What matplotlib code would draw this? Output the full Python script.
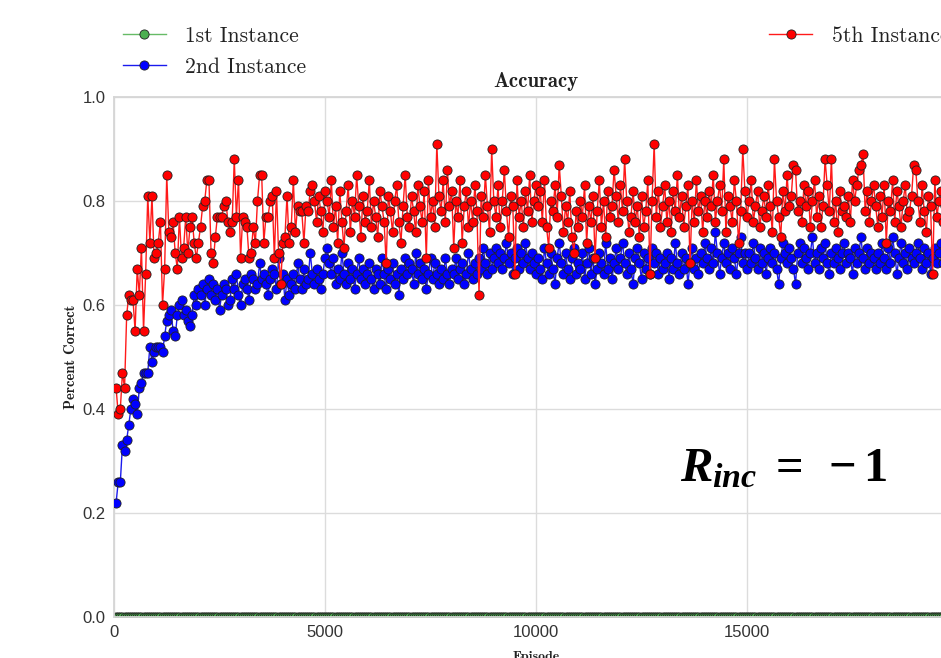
import numpy as np
import matplotlib
matplotlib.use("Agg")
import matplotlib.pyplot as plt
from matplotlib.font_manager import FontProperties

# ---------------- data ----------------
episodes = np.arange(50, 20001, 50)

first_instance = [
    0.0, 0.0, 0.0, 0.0, 0.0, 0.0, 0.0, 0.0, 0.0, 0.0, 0.0, 0.0, 0.0, 0.0, 0.0, 0.0, 0.0, 0.0, 0.0, 0.0,
    0.0, 0.0, 0.0, 0.0, 0.0, 0.0, 0.0, 0.0, 0.0, 0.0, 0.0, 0.0, 0.0, 0.0, 0.0, 0.0, 0.0, 0.0, 0.0, 0.0,
    0.0, 0.0, 0.0, 0.0, 0.0, 0.0, 0.0, 0.0, 0.0, 0.0, 0.0, 0.0, 0.0, 0.0, 0.0, 0.0, 0.0, 0.0, 0.0, 0.0,
    0.0, 0.0, 0.0, 0.0, 0.0, 0.0, 0.0, 0.0, 0.0, 0.0, 0.0, 0.0, 0.0, 0.0, 0.0, 0.0, 0.0, 0.0, 0.0, 0.0,
    0.0, 0.0, 0.0, 0.0, 0.0, 0.0, 0.0, 0.0, 0.0, 0.0, 0.0, 0.0, 0.0, 0.0, 0.0, 0.0, 0.0, 0.0, 0.0, 0.0,
    0.0, 0.0, 0.0, 0.0, 0.0, 0.0, 0.0, 0.0, 0.0, 0.0, 0.0, 0.0, 0.0, 0.0, 0.0, 0.0, 0.0, 0.0, 0.0, 0.0,
    0.0, 0.0, 0.0, 0.0, 0.0, 0.0, 0.0, 0.0, 0.0, 0.0, 0.0, 0.0, 0.0, 0.0, 0.0, 0.0, 0.0, 0.0, 0.0, 0.0,
    0.0, 0.0, 0.0, 0.0, 0.0, 0.0, 0.0, 0.0, 0.0, 0.0, 0.0, 0.0, 0.0, 0.0, 0.0, 0.0, 0.0, 0.0, 0.0, 0.0,
    0.0, 0.0, 0.0, 0.0, 0.0, 0.0, 0.0, 0.0, 0.0, 0.0, 0.0, 0.0, 0.0, 0.0, 0.0, 0.0, 0.0, 0.0, 0.0, 0.0,
    0.0, 0.0, 0.0, 0.0, 0.0, 0.0, 0.0, 0.0, 0.0, 0.0, 0.0, 0.0, 0.0, 0.0, 0.0, 0.0, 0.0, 0.0, 0.0, 0.0,
    0.0, 0.0, 0.0, 0.0, 0.0, 0.0, 0.0, 0.0, 0.0, 0.0, 0.0, 0.0, 0.0, 0.0, 0.0, 0.0, 0.0, 0.0, 0.0, 0.0,
    0.0, 0.0, 0.0, 0.0, 0.0, 0.0, 0.0, 0.0, 0.0, 0.0, 0.0, 0.0, 0.0, 0.0, 0.0, 0.0, 0.0, 0.0, 0.0, 0.0,
    0.0, 0.0, 0.0, 0.0, 0.0, 0.0, 0.0, 0.0, 0.0, 0.0, 0.0, 0.0, 0.0, 0.0, 0.0, 0.0, 0.0, 0.0, 0.0, 0.0,
    0.0, 0.0, 0.0, 0.0, 0.0, 0.0, 0.0, 0.0, 0.0, 0.0, 0.0, 0.0, 0.0, 0.0, 0.0, 0.0, 0.0, 0.0, 0.0, 0.0,
    0.0, 0.0, 0.0, 0.0, 0.0, 0.0, 0.0, 0.0, 0.0, 0.0, 0.0, 0.0, 0.0, 0.0, 0.0, 0.0, 0.0, 0.0, 0.0, 0.0,
    0.0, 0.0, 0.0, 0.0, 0.0, 0.0, 0.0, 0.0, 0.0, 0.0, 0.0, 0.0, 0.0, 0.0, 0.0, 0.0, 0.0, 0.0, 0.0, 0.0,
    0.0, 0.0, 0.0, 0.0, 0.0, 0.0, 0.0, 0.0, 0.0, 0.0, 0.0, 0.0, 0.0, 0.0, 0.0, 0.0, 0.0, 0.0, 0.0, 0.0,
    0.0, 0.0, 0.0, 0.0, 0.0, 0.0, 0.0, 0.0, 0.0, 0.0, 0.0, 0.0, 0.0, 0.0, 0.0, 0.0, 0.0, 0.0, 0.0, 0.0,
    0.0, 0.0, 0.0, 0.0, 0.0, 0.0, 0.0, 0.0, 0.0, 0.0, 0.0, 0.0, 0.0, 0.0, 0.0, 0.0, 0.0, 0.0, 0.0, 0.0,
    0.0, 0.0, 0.0, 0.0, 0.0, 0.0, 0.0, 0.0, 0.0, 0.0, 0.0, 0.0, 0.0, 0.0, 0.0, 0.0, 0.0, 0.0, 0.0, 0.0,
]

second_instance = [
    0.22, 0.26, 0.26, 0.33, 0.32, 0.34, 0.37, 0.40, 0.42, 0.41, 0.39, 0.44, 0.45, 0.47, 0.47, 0.47, 0.52, 0.49, 0.51, 0.52,
    0.52, 0.52, 0.51, 0.54, 0.57, 0.58, 0.59, 0.55, 0.54, 0.58, 0.60, 0.61, 0.58, 0.59, 0.57, 0.56, 0.58, 0.62, 0.60, 0.63,
    0.62, 0.64, 0.60, 0.63, 0.65, 0.62, 0.64, 0.61, 0.63, 0.59, 0.62, 0.64, 0.63, 0.60, 0.61, 0.65, 0.63, 0.66, 0.62, 0.60,
    0.64, 0.65, 0.63, 0.61, 0.66, 0.65, 0.63, 0.64, 0.68, 0.65, 0.66, 0.64, 0.62, 0.65, 0.67, 0.66, 0.63, 0.69, 0.64, 0.66,
    0.61, 0.65, 0.62, 0.64, 0.66, 0.63, 0.68, 0.65, 0.63, 0.67, 0.64, 0.65, 0.70, 0.66, 0.64, 0.67, 0.65, 0.63, 0.66, 0.69,
    0.71, 0.68, 0.66, 0.69, 0.64, 0.67, 0.65, 0.70, 0.66, 0.64, 0.68, 0.65, 0.67, 0.63, 0.66, 0.69, 0.65, 0.67, 0.64, 0.66,
    0.68, 0.65, 0.63, 0.67, 0.66, 0.64, 0.69, 0.66, 0.63, 0.67, 0.65, 0.68, 0.64, 0.66, 0.62, 0.67, 0.65, 0.69, 0.66, 0.68,
    0.67, 0.64, 0.70, 0.66, 0.68, 0.65, 0.67, 0.63, 0.66, 0.69, 0.65, 0.68, 0.66, 0.64, 0.67, 0.65, 0.69, 0.66, 0.64, 0.67,
    0.66, 0.69, 0.65, 0.67, 0.68, 0.64, 0.66, 0.70, 0.67, 0.65, 0.68, 0.66, 0.69, 0.67, 0.71, 0.68, 0.66, 0.70, 0.67, 0.69,
    0.71, 0.68, 0.70, 0.67, 0.69, 0.72, 0.68, 0.70, 0.66, 0.69, 0.71, 0.67, 0.70, 0.68, 0.72, 0.69, 0.67, 0.70, 0.68, 0.66,
    0.69, 0.67, 0.65, 0.71, 0.68, 0.66, 0.70, 0.67, 0.64, 0.69, 0.72, 0.68, 0.66, 0.70, 0.67, 0.65, 0.69, 0.71, 0.66, 0.68,
    0.67, 0.70, 0.65, 0.68, 0.71, 0.66, 0.69, 0.64, 0.67, 0.70, 0.68, 0.66, 0.72, 0.67, 0.69, 0.65, 0.68, 0.71, 0.67, 0.69,
    0.72, 0.68, 0.66, 0.70, 0.67, 0.64, 0.69, 0.71, 0.68, 0.65, 0.70, 0.67, 0.69, 0.66, 0.71, 0.68, 0.70, 0.66, 0.69, 0.67,
    0.68, 0.70, 0.65, 0.69, 0.67, 0.72, 0.68, 0.66, 0.70, 0.67, 0.69, 0.64, 0.68, 0.71, 0.67, 0.69, 0.66, 0.70, 0.68, 0.72,
    0.69, 0.67, 0.71, 0.68, 0.74, 0.70, 0.66, 0.69, 0.72, 0.68, 0.70, 0.67, 0.71, 0.69, 0.66, 0.70, 0.73, 0.68, 0.70, 0.67,
    0.70, 0.68, 0.72, 0.69, 0.67, 0.71, 0.68, 0.70, 0.66, 0.69, 0.71, 0.68, 0.70, 0.67, 0.64, 0.69, 0.72, 0.70, 0.68, 0.71,
    0.69, 0.67, 0.64, 0.70, 0.72, 0.68, 0.71, 0.69, 0.67, 0.70, 0.73, 0.68, 0.70, 0.67, 0.71, 0.69, 0.72, 0.68, 0.66, 0.70,
    0.68, 0.71, 0.69, 0.67, 0.70, 0.72, 0.68, 0.70, 0.69, 0.66, 0.71, 0.68, 0.70, 0.73, 0.69, 0.67, 0.71, 0.68, 0.70, 0.69,
    0.67, 0.70, 0.68, 0.72, 0.69, 0.67, 0.71, 0.68, 0.73, 0.70, 0.66, 0.69, 0.72, 0.68, 0.70, 0.67, 0.71, 0.69, 0.68, 0.70,
    0.72, 0.69, 0.67, 0.71, 0.68, 0.70, 0.66, 0.69, 0.71, 0.68, 0.70, 0.72, 0.68, 0.69, 0.71, 0.67, 0.70, 0.68, 0.72, 0.69,
]

fifth_instance = [
    0.44, 0.39, 0.40, 0.47, 0.44, 0.58, 0.62, 0.61, 0.61, 0.55, 0.67, 0.62, 0.71, 0.55, 0.66, 0.81, 0.72, 0.81, 0.69, 0.70,
    0.72, 0.76, 0.60, 0.67, 0.85, 0.74, 0.73, 0.76, 0.70, 0.67, 0.77, 0.69, 0.71, 0.77, 0.70, 0.75, 0.77, 0.72, 0.69, 0.72,
    0.75, 0.79, 0.80, 0.84, 0.84, 0.70, 0.68, 0.73, 0.77, 0.77, 0.77, 0.79, 0.80, 0.76, 0.74, 0.76, 0.88, 0.77, 0.84, 0.69,
    0.77, 0.76, 0.75, 0.69, 0.70, 0.75, 0.72, 0.80, 0.85, 0.85, 0.72, 0.77, 0.77, 0.80, 0.81, 0.69, 0.82, 0.70, 0.64, 0.72,
    0.73, 0.81, 0.72, 0.75, 0.84, 0.74, 0.79, 0.78, 0.78, 0.72, 0.79, 0.78, 0.82, 0.83, 0.80, 0.76, 0.81, 0.78, 0.74, 0.82,
    0.80, 0.77, 0.84, 0.75, 0.79, 0.72, 0.82, 0.76, 0.71, 0.78, 0.83, 0.74, 0.80, 0.77, 0.85, 0.79, 0.73, 0.81, 0.76, 0.78,
    0.84, 0.75, 0.80, 0.77, 0.73, 0.82, 0.79, 0.76, 0.68, 0.81, 0.78, 0.74, 0.80, 0.83, 0.76, 0.72, 0.79, 0.85, 0.77, 0.75,
    0.81, 0.78, 0.74, 0.83, 0.79, 0.76, 0.82, 0.69, 0.84, 0.77, 0.80, 0.75, 0.91, 0.81, 0.78, 0.84, 0.76, 0.86, 0.79, 0.82,
    0.71, 0.80, 0.77, 0.84, 0.72, 0.79, 0.82, 0.75, 0.80, 0.76, 0.83, 0.78, 0.62, 0.81, 0.77, 0.85, 0.79, 0.74, 0.90, 0.80,
    0.77, 0.83, 0.75, 0.80, 0.86, 0.78, 0.73, 0.81, 0.79, 0.66, 0.84, 0.77, 0.80, 0.75, 0.82, 0.78, 0.85, 0.76, 0.80, 0.83,
    0.79, 0.82, 0.76, 0.84, 0.75, 0.71, 0.80, 0.78, 0.83, 0.77, 0.87, 0.81, 0.74, 0.79, 0.76, 0.82, 0.73, 0.70, 0.78, 0.75,
    0.80, 0.77, 0.83, 0.72, 0.79, 0.76, 0.81, 0.69, 0.78, 0.84, 0.75, 0.80, 0.73, 0.82, 0.77, 0.79, 0.86, 0.81, 0.76, 0.83,
    0.78, 0.88, 0.80, 0.74, 0.77, 0.82, 0.76, 0.79, 0.73, 0.81, 0.75, 0.78, 0.84, 0.66, 0.80, 0.91, 0.77, 0.82, 0.75, 0.79,
    0.83, 0.76, 0.80, 0.74, 0.82, 0.78, 0.85, 0.77, 0.81, 0.75, 0.79, 0.83, 0.68, 0.80, 0.76, 0.84, 0.78, 0.81, 0.74, 0.80,
    0.77, 0.82, 0.79, 0.85, 0.76, 0.80, 0.83, 0.78, 0.88, 0.74, 0.81, 0.79, 0.76, 0.84, 0.80, 0.72, 0.78, 0.90, 0.82, 0.77,
    0.80, 0.84, 0.76, 0.79, 0.82, 0.75, 0.78, 0.81, 0.77, 0.83, 0.79, 0.74, 0.88, 0.80, 0.77, 0.73, 0.82, 0.78, 0.85, 0.79,
    0.81, 0.87, 0.86, 0.78, 0.80, 0.76, 0.83, 0.79, 0.82, 0.75, 0.80, 0.84, 0.77, 0.81, 0.75, 0.79, 0.88, 0.83, 0.78, 0.88,
    0.76, 0.80, 0.74, 0.82, 0.78, 0.79, 0.77, 0.81, 0.76, 0.84, 0.80, 0.83, 0.86, 0.87, 0.89, 0.78, 0.82, 0.76, 0.80, 0.83,
    0.79, 0.75, 0.81, 0.77, 0.83, 0.72, 0.80, 0.78, 0.84, 0.76, 0.82, 0.79, 0.75, 0.80, 0.83, 0.77, 0.78, 0.81, 0.87, 0.86,
    0.80, 0.76, 0.83, 0.78, 0.74, 0.81, 0.79, 0.66, 0.84, 0.77, 0.80, 0.82, 0.76, 0.79, 0.83, 0.78, 0.81, 0.75, 0.80, 0.82,
]

series_labels = ["1st Instance", "2nd Instance", "5th Instance"]
x_ticks = [0, 5000, 10000, 15000]
y_ticks = [0.0, 0.2, 0.4, 0.6, 0.8, 1.0]

# ---------------- style ----------------
plt.rcParams["mathtext.fontset"] = "custom"
plt.rcParams["mathtext.it"] = "Liberation Serif:italic:bold"
plt.rcParams["mathtext.rm"] = "Liberation Serif:bold"
plt.rcParams["mathtext.bf"] = "Liberation Serif:bold"

tick_font = FontProperties(family="Liberation Sans", size=12)
legend_font = FontProperties(family="cmr10", size=15.5)

fig = plt.figure(figsize=(9.41, 6.58), dpi=100)
ax = fig.add_axes([114 / 941, 41 / 658, 844 / 941, 520 / 658])

ax.set_facecolor("white")
for s in ax.spines.values():
    s.set_color("#d6d6d6")
    s.set_linewidth(1.3)
ax.grid(True, color="#dcdcdc", linewidth=1.0)
ax.set_axisbelow(True)

mk = dict(marker="o", markersize=6.6, markeredgecolor="#202020", markeredgewidth=0.6, linewidth=1.0)
ax.plot(episodes, first_instance, color="#66bb66", markerfacecolor="#4caf50",
        label=series_labels[0], zorder=2, **mk)
ax.plot(episodes, second_instance, color="#1a1aee", markerfacecolor="#0000ff",
        label=series_labels[1], zorder=3, **mk)
ax.plot(episodes, fifth_instance, color="#ff1a1a", markerfacecolor="#ff0000",
        label=series_labels[2], zorder=4, **mk)

ax.set_xlim(0, 20000)
ax.set_ylim(0, 1.0)
ax.set_xticks(x_ticks)
ax.set_yticks(y_ticks)
ax.set_yticklabels([f"{v:.1f}" for v in y_ticks])
ax.tick_params(length=0, pad=6, colors="#333333")
for lab in ax.get_xticklabels() + ax.get_yticklabels():
    lab.set_fontproperties(tick_font)

ax.set_title("Accuracy", family="cmb10", fontsize=15, color="#222222", pad=7)
ax.set_xlabel("Episode", family="cmb10", fontsize=10, color="#222222", labelpad=8)
ax.set_ylabel("Percent Correct", family="cmb10", fontsize=10.5, color="#222222", labelpad=3.5)

leg = ax.legend(ncol=2, mode="expand", loc="lower left", bbox_to_anchor=(0, 1.022, 1, 0.102),
                borderaxespad=0, frameon=False, prop=legend_font, handlelength=2.0,
                handletextpad=0.9, labelspacing=0.55)
for t in leg.get_texts():
    t.set_color("#222222")

ax.text(0.794, 0.288, r"$R_{inc}\;=\;-1$", transform=ax.transAxes, fontsize=35,
        ha="center", va="center", color="black", zorder=6)

fig.savefig("out.png", dpi=100)
